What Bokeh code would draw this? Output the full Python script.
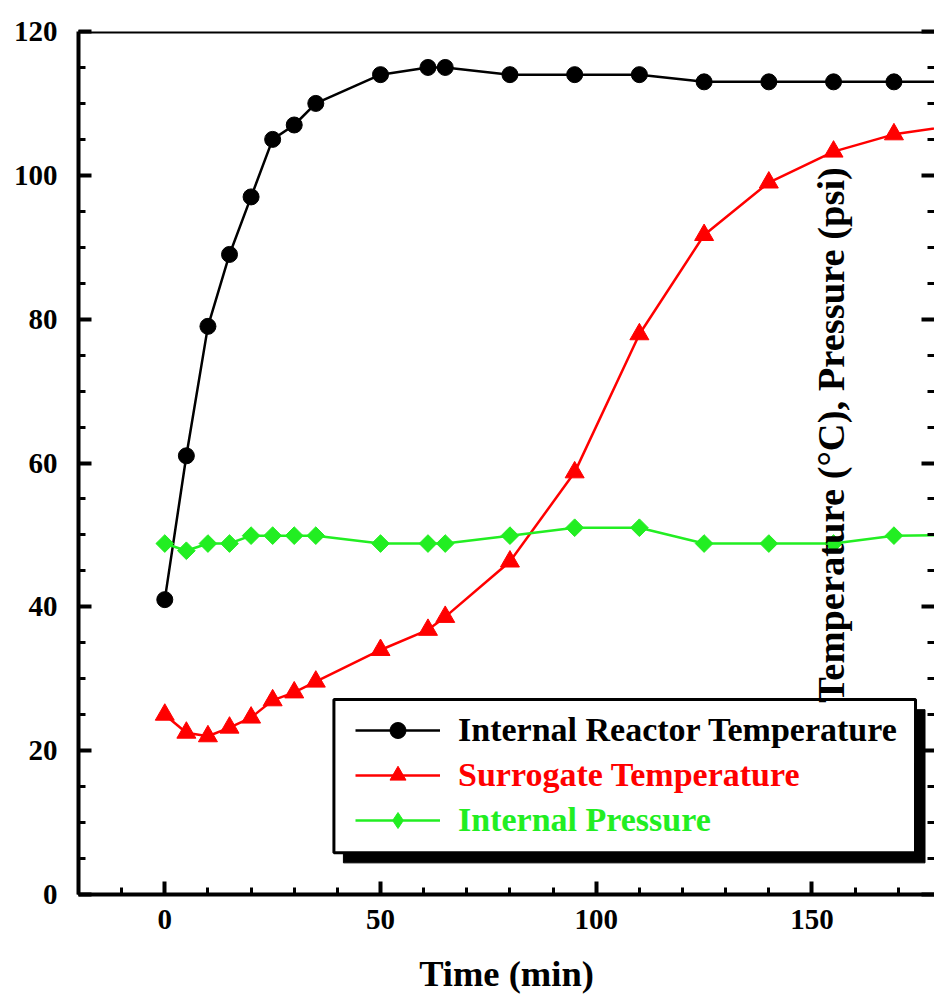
import numpy as np
from bokeh.plotting import figure
from bokeh.models import (Range1d, LinearAxis, SingleIntervalTicker, Span, BoxAnnotation,
                          Legend, LegendItem, Label, CustomJSTickFormatter)
from bokeh.embed import file_html
from bokeh.resources import INLINE

# ---------------- data ----------------
time_min = [0, 5, 10, 15, 20, 25, 30, 35, 50, 61, 65, 80, 95, 110, 125, 140, 155, 169, 184]
reactor_temp = [41, 61, 79, 89, 97, 105, 107, 110, 114, 115, 115, 114, 114, 114, 113, 113, 113, 113, 113]
surrogate_temp = [25, 22.5, 22, 23.2, 24.6, 27, 28.1, 29.6, 34, 36.8, 38.6, 46.3, 58.7, 77.9, 91.7,
                  99, 103.3, 105.7, 107]
internal_pressure = [48.8, 47.8, 48.8, 48.8, 49.9, 49.9, 49.9, 49.9, 48.8, 48.8, 48.8, 49.9, 51, 51,
                     48.8, 48.8, 48.8, 49.9, 50]
series_names = ["Internal Reactor Temperature", "Surrogate Temperature", "Internal Pressure"]
x_title = "Time (min)"
y_title = "Temperature (\u00b0C), Pressure (psi)"

# ---------------- style ----------------
FONT = "Liberation Serif"
GREEN = "#22EE22"
RED = "#FF0000"

p = figure(width=934, height=996, output_backend="svg", toolbar_location=None,
           x_range=Range1d(-20, 178.4), y_range=Range1d(0, 120),
           min_border_left=78, min_border_top=31, min_border_right=0, min_border_bottom=101)
p.outline_line_color = None
p.grid.visible = False
p.background_fill_color = "white"
p.border_fill_color = "white"

def style_axis(ax):
    ax.axis_line_width = 4
    ax.axis_line_color = "black"
    ax.major_tick_in = 13
    ax.major_tick_out = 0
    ax.minor_tick_in = 7
    ax.minor_tick_out = 0
    ax.major_tick_line_width = 4
    ax.minor_tick_line_width = 3
    ax.major_tick_line_color = "black"
    ax.minor_tick_line_color = "black"
    ax.major_label_text_font = FONT
    ax.major_label_text_font_size = "29px"
    ax.major_label_text_font_style = "bold"
    ax.major_label_text_color = "black"

xa = p.xaxis[0]
xa.ticker = SingleIntervalTicker(interval=50, num_minor_ticks=5)
style_axis(xa)
xa.major_label_standoff = 15
xa.axis_label = x_title
xa.axis_label_text_font = FONT
xa.axis_label_text_font_size = "36.5px"
xa.axis_label_text_font_style = "bold"
xa.axis_label_text_color = "black"
xa.axis_label_standoff = 21

ya = p.yaxis[0]
ya.ticker = SingleIntervalTicker(interval=20, num_minor_ticks=4)
style_axis(ya)
ya.major_label_standoff = 21

# right-hand ticks only (its axis line lies beyond the cropped edge in the reference)
ra = LinearAxis(ticker=SingleIntervalTicker(interval=20, num_minor_ticks=4),
                formatter=CustomJSTickFormatter(code="return ''"))
style_axis(ra)
ra.axis_line_color = None
ra.major_label_standoff = 0
p.add_layout(ra, "right")

p.add_layout(Span(location=120, dimension="width", line_color="black", line_width=4))

# ---------------- series ----------------
l1 = p.line(time_min, reactor_temp, line_color="black", line_width=2.5)
s1 = p.scatter(time_min, reactor_temp, marker="circle", size=16, color="black")
l2 = p.line(time_min, surrogate_temp, line_color=RED, line_width=2.5)
s2 = p.scatter(time_min, surrogate_temp, marker="triangle", size=19, color=RED)
l3 = p.line(time_min, internal_pressure, line_color=GREEN, line_width=2.5)
s3 = p.scatter(time_min, internal_pressure, marker="square", angle=np.pi / 4, size=12.5, color=GREEN)
# legend key for the diamonds (legend glyphs are never rotated); NaN so it draws nothing in the plot
s3_key = p.scatter([np.nan], [np.nan], marker="diamond", size=16, color=GREEN)

# ---------------- legend box with shadow ----------------
box_l, box_r, box_t, box_b = 39.2, 174.0, 27.1, 5.8
sh_dx, sh_dy = 2.2, 1.4
p.add_layout(BoxAnnotation(left=box_l + sh_dx, right=box_r + sh_dx, top=box_t - sh_dy, bottom=box_b - sh_dy,
                           fill_color="black", fill_alpha=1, line_color="black", line_alpha=1,
                           line_width=1))
p.add_layout(BoxAnnotation(left=box_l, right=box_r, top=box_t, bottom=box_b,
                           fill_color="white", fill_alpha=1, line_color="black", line_alpha=1,
                           line_width=3))

rows = [(series_names[0], [l1, s1], "black", 144),
        (series_names[1], [l2, s2], RED, 99),
        (series_names[2], [l3, s3_key], GREEN, 54)]
for name, rends, col, yoff in rows:
    lg = Legend(items=[LegendItem(label=name, renderers=rends)], location=(277, yoff),
                background_fill_alpha=0, border_line_color=None, padding=0, margin=0, spacing=0,
                glyph_width=85, glyph_height=40, label_height=40, label_standoff=18,
                label_text_font=FONT, label_text_font_size="34px", label_text_font_style="bold",
                label_text_color=col)
    p.add_layout(lg)

# ---------------- y title (placed inside the plot as in the reference) ----------------
p.add_layout(Label(x=154.3, y=63.9, text=y_title, angle=np.pi / 2, angle_units="rad",
                   text_align="center", text_baseline="middle", text_font=FONT,
                   text_font_size="38.5px", text_font_style="bold", text_color="black"))

with open("out.html", "w") as f:
    f.write(file_html(p, INLINE))
